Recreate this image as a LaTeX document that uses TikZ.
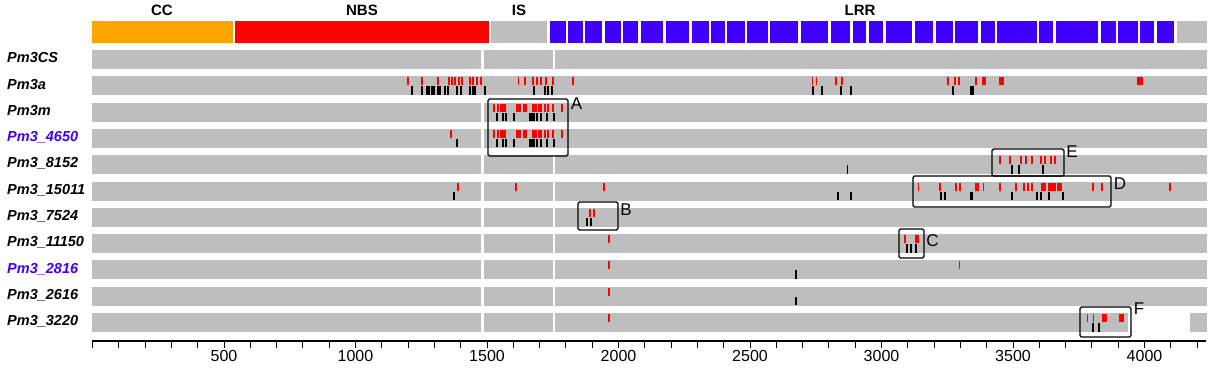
\documentclass[tikz,border=0pt]{standalone}
\usepackage{fontspec}
\setmainfont{Liberation Sans}
\definecolor{mgray}{HTML}{BEBEBE}
\definecolor{morange}{HTML}{FFA500}
\definecolor{mred}{HTML}{FF0000}
\definecolor{mblue}{HTML}{4000FF}
\newcommand\redtick[2]{\foreach \x in {#2}{\fill[mred] ({\x-0.9},{50+26.3*#1+1}) rectangle ({\x+0.9},{50+26.3*#1+9});}}
\newcommand\redwide[2]{\foreach \a/\b in {#2}{\fill[mred] (\a,{50+26.3*#1+1}) rectangle (\b,{50+26.3*#1+9});}}
\newcommand\blktick[2]{\foreach \x in {#2}{\fill[black] ({\x-0.7},{50+26.3*#1+10}) rectangle ({\x+0.7},{50+26.3*#1+18.5});}}
\newcommand\blkwide[2]{\foreach \a/\b in {#2}{\fill[black] (\a,{50+26.3*#1+10}) rectangle (\b,{50+26.3*#1+18.5});}}
\newcommand\grayseg[2]{\foreach \a/\b in {#2}{\fill[mgray] (\a,{50+26.3*#1}) rectangle (\b,{50+26.3*#1+19});}}
\tikzset{
  rowlab/.style={anchor=base west, inner sep=0pt, font=\fontsize{14.5}{16}\selectfont\bfseries\itshape},
  domlab/.style={anchor=base, inner sep=0pt, font=\fontsize{15}{17}\selectfont\bfseries},
  axlab/.style={anchor=base, inner sep=0pt, font=\fontsize{16}{18}\selectfont},
  boxlab/.style={anchor=center, inner sep=0pt, font=\fontsize{17}{19}\selectfont},
  hbox/.style={draw=black, line width=1.3pt, rounded corners=1.5pt}
}
\begin{document}
\begin{tikzpicture}[x=1pt,y=-1pt]
\useasboundingbox (0,0) rectangle (1218,373);
% domain bar
\fill[morange] (92,21) rectangle (233,43);
\fill[mred] (235,21) rectangle (489,43);
\fill[mgray] (491,21) rectangle (547,43);
\foreach \a/\b in {550/566,568/583,585/602,605/621,623/638,641/663,666/689,692/709,711/725,727/745,747/768,770/798,801/828,831/850,853/866,869/883,886/912,915/933,936/953,955/978,981/995,997/1037,1039/1053,1056/1098,1101/1116,1118/1138,1140/1154,1157/1174}
  {\fill[mblue] (\a,21) rectangle (\b,43);}
\fill[mgray] (1177,21) rectangle (1207,43);
\node[domlab] (cc) at (162,15) {CC};
\node[domlab] (nbs) at (362,15) {NBS};
\node[domlab] (is) at (519,15) {IS};
\node[domlab] (lrr) at (860,15) {LRR};
% gray rows
\grayseg{0}{92/481,484/553,555/1207}
\grayseg{1}{92/1207}
\grayseg{2}{92/481,484/1207}
\grayseg{3}{92/481,484/1207}
\foreach \i in {4,...,9}{\grayseg{\i}{92/481,484/553,555/1207}}
\grayseg{10}{92/481,484/553,555/1128,1190/1207}
% row labels
\node[rowlab] (r0) at (7,62.7) {Pm3CS};
\node[rowlab] (r1) at (7,89.0) {Pm3a};
\node[rowlab] (r2) at (7,115.3) {Pm3m};
\node[rowlab,text=mblue] (r3) at (7,141.6) {Pm3\_4650};
\node[rowlab] (r4) at (7,167.9) {Pm3\_8152};
\node[rowlab] (r5) at (7,194.2) {Pm3\_15011};
\node[rowlab] (r6) at (7,220.5) {Pm3\_7524};
\node[rowlab] (r7) at (7,246.8) {Pm3\_11150};
\node[rowlab,text=mblue] (r8) at (7,273.1) {Pm3\_2816};
\node[rowlab] (r9) at (7,299.4) {Pm3\_2616};
\node[rowlab] (r10) at (7,325.7) {Pm3\_3220};
% Pm3a
\redtick{1}{408,422,438,449,452,455,459,462,470,473,477,481,518.5,525,533,537,541,546,553,573,812.5,816.5,836,842,948,955,959,976}
\redwide{1}{982/986,999/1004,1137/1143}
\blktick{1}{412,422,427,429,432,434,438,440,445,448,457,461,470,473,475,485,534,545,548,552,813,822,841,851,953}
\blkwide{1}{970/974}
% Pm3m and Pm3_4650
\foreach \r in {2,3}{
  \redtick{\r}{494,498,501,503,505,545,548,553,562}
  \redwide{\r}{516/521,523/527,532/536.5,537.5/542}
  \blktick{\r}{497,503,506,514,530,532,534,537,541,547,554}
}
\redtick{3}{451}
\blktick{3}{457}
% Pm3_8152
\redtick{4}{1000,1010,1021,1026,1032,1041,1045,1051,1055}
\blktick{4}{847.5,1012,1019,1043}
% Pm3_15011
\redtick{5}{458,516,604,918.5,940,956,960,976,978,983.5,1000,1016,1024,1028,1032,1093,1102,1170}
\redwide{5}{1041/1046,1048/1056,1057/1062}
\blktick{5}{454,838,851,941,945,1012,1037,1041,1049,1063}
\blkwide{5}{970/973}
% Pm3_7524
\redtick{6}{590,594}
\blktick{6}{587,591}
% Pm3_11150
\redtick{7}{609,905}
\redwide{7}{915/919}
\blktick{7}{907,911,916}
% Pm3_2816
\redtick{8}{609,959.5}
\blktick{8}{796}
% Pm3_2616
\redtick{9}{609}
\blktick{9}{796}
% Pm3_3220
\redtick{10}{609,1087.5,1093.5}
\redwide{10}{1102/1107,1119/1124}
\blktick{10}{1093,1099}
% highlight boxes
\draw[hbox] (488,99) rectangle (568,156);
\node[boxlab] (la) at (576.5,104) {A};
\draw[hbox] (578,202) rectangle (618,230);
\node[boxlab] (lb) at (626,210) {B};
\draw[hbox] (899,229) rectangle (924,258);
\node[boxlab] (lc) at (932.5,241) {C};
\draw[hbox] (913,176) rectangle (1111,207);
\node[boxlab] (ld) at (1120,183.5) {D};
\draw[hbox] (992,149) rectangle (1064,176);
\node[boxlab] (le) at (1072,151.5) {E};
\draw[hbox] (1080,307) rectangle (1131,337);
\node[boxlab] (lf) at (1139,309) {F};
% axis
\draw[line width=1.1pt] (92,341) -- (1206,341);
\foreach \v in {0,100,...,4200}{\draw[line width=1pt] ({92.5+0.263*\v},341) -- ({92.5+0.263*\v},347.5);}
\foreach \v in {500,1000,...,4000}{\node[axlab] (ax\v) at ({92.5+0.263*\v},361.5) {\v};}
\end{tikzpicture}
\end{document}
